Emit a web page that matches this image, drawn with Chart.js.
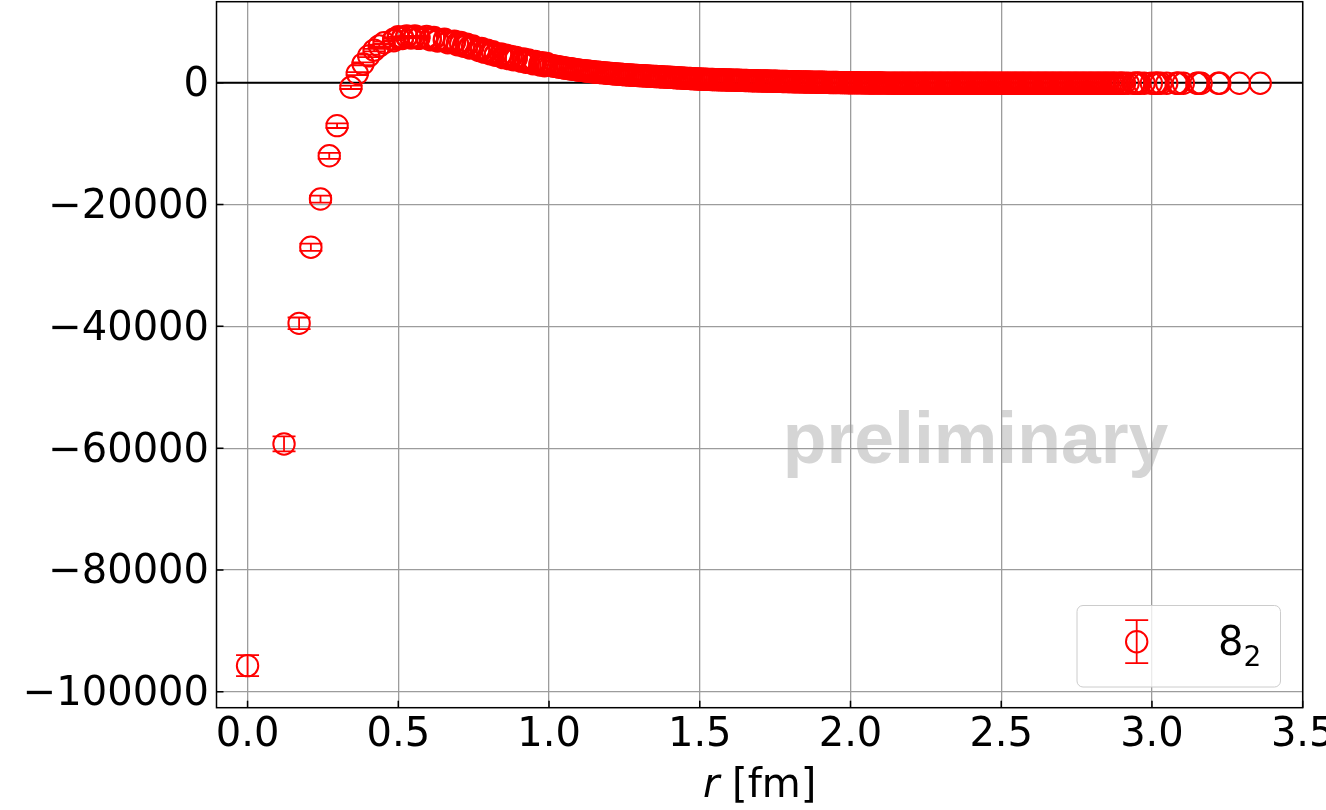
<!DOCTYPE html>
<html><head><meta charset="utf-8">
<script src="https://cdn.jsdelivr.net/npm/chart.js@4.4.1/dist/chart.umd.min.js"></script>
<style>html,body{margin:0;padding:0;background:#fff;}canvas{display:block;}</style>
</head><body>
<canvas id="c" width="1326" height="810"></canvas>
<script>
// ---------------- data ----------------
const seriesLabel = '8₂';
const watermark = 'preliminary';
const xTitleItalic = 'r';
const xTitleRest = ' [fm]';
const xTicks = [0, 0.5, 1, 1.5, 2, 2.5, 3, 3.5];
const yTicks = [-100000, -80000, -60000, -40000, -20000, 0];

// r [fm] of every point (sorted)
const r = [
0,0.121,0.171,0.210,0.242,0.271,0.297,0.343,
0.364,0.383,0.402,0.420,0.437,0.453,0.485,0.500,0.514,0.528,0.542,0.555,0.568,0.594,0.606,0.618,0.630,0.653,0.664,
0.686,0.696,0.707,0.717,0.727,0.737,0.747,0.767,0.776,0.785,0.795,0.804,0.813,0.822,0.840,0.848,0.857,0.866,0.874,
0.882,0.891,0.907,0.915,0.923,0.931,0.947,0.954,0.970,0.977,0.985,0.992,
1,1.006,1.013,1.019,1.025,1.031,1.038,1.044,
1.05,1.056,1.063,1.069,1.075,1.081,1.088,1.094,
1.1,1.106,1.113,1.119,1.125,1.131,1.138,1.144,
1.15,1.156,1.163,1.169,1.175,1.181,1.188,1.194,
1.2,1.206,1.213,1.219,1.225,1.231,1.238,1.244,
1.25,1.256,1.263,1.269,1.275,1.281,1.288,1.294,
1.3,1.306,1.313,1.319,1.325,1.331,1.338,1.344,
1.35,1.356,1.363,1.369,1.375,1.381,1.388,1.394,
1.4,1.406,1.413,1.419,1.425,1.431,1.438,1.444,
1.45,1.456,1.463,1.469,1.475,1.481,1.488,1.494,
1.5,1.506,1.513,1.519,1.525,1.531,1.538,1.544,
1.55,1.556,1.563,1.569,1.575,1.581,1.588,1.594,
1.6,1.606,1.613,1.619,1.625,1.631,1.638,1.644,
1.65,1.656,1.663,1.669,1.675,1.681,1.688,1.694,
1.7,1.706,1.713,1.719,1.725,1.731,1.738,1.744,
1.75,1.756,1.763,1.769,1.775,1.781,1.788,1.794,
1.8,1.806,1.813,1.819,1.825,1.831,1.838,1.844,
1.85,1.856,1.863,1.869,1.875,1.881,1.888,1.894,
1.9,1.906,1.913,1.919,1.925,1.931,1.938,1.944,
1.95,1.956,1.963,1.969,1.975,1.981,1.988,1.994,
2,2.006,2.013,2.019,2.025,2.031,2.038,2.044,
2.05,2.056,2.063,2.069,2.075,2.081,2.088,2.094,
2.1,2.106,2.113,2.119,2.125,2.131,2.138,2.144,
2.15,2.156,2.163,2.169,2.175,2.181,2.188,2.194,
2.2,2.206,2.213,2.219,2.225,2.231,2.238,2.244,
2.25,2.256,2.263,2.269,2.275,2.281,2.288,2.294,
2.3,2.306,2.313,2.319,2.325,2.331,2.338,2.344,
2.35,2.356,2.363,2.369,2.375,2.381,2.388,2.394,
2.4,2.406,2.413,2.419,2.425,2.431,2.438,2.444,
2.45,2.456,2.463,2.469,2.475,2.481,2.488,2.494,
2.5,2.506,2.513,2.519,2.525,2.531,2.538,2.544,
2.55,2.556,2.563,2.569,2.575,2.581,2.588,2.594,
2.6,2.606,2.613,2.619,2.625,2.631,2.638,2.644,
2.65,2.656,2.663,2.669,2.675,2.681,2.688,2.694,
2.7,2.706,2.713,2.719,2.725,2.731,2.738,2.744,
2.75,2.756,2.763,2.769,2.775,2.781,2.788,2.794,
2.8,2.806,2.813,2.819,2.825,2.831,2.838,2.844,
2.85,2.856,2.863,2.869,2.875,
2.881,2.891,2.896,2.901,2.909,2.921,2.939,2.944,2.951,2.954,2.959,2.974,2.998,3.011,3.015,3.020,3.030,
3.049,3.081,3.085,3.090,3.104,3.149,3.154,3.163,3.220,3.225,3.290,3.359
];

// V(r) of every point
const V = [
-95700,-59300,-39500,-27000,-19100,-12000,-7050,-750,
1500,3100,4400,5350,6050,6550,7150,7350,7450,7510,7530,7525,7490,7360,7290,7200,7110,6920,6810,
6590,6480,6350,6210,6080,5940,5810,5520,5390,5250,5120,4990,4860,4730,4480,4350,4270,4180,4100,
4010,3930,3770,3670,3590,3520,3350,3270,3140,3060,3000,2930,
2870,2815,2760,2710,2655,2600,2550,2495,
2440,2390,2345,2300,2250,2200,2155,2105,
2060,2025,1990,1950,1915,1880,1840,1805,
1770,1740,1710,1680,1650,1620,1590,1560,
1530,1505,1480,1455,1430,1405,1380,1355,
1330,1310,1290,1270,1250,1230,1210,1190,
1170,1150,1135,1115,1100,1080,1065,1045,
1030,1010,995,975,960,940,925,905,
890,870,855,835,815,795,775,760,
740,720,705,685,670,650,635,615,
600,590,575,565,555,545,530,520,
510,500,490,485,475,465,455,450,
440,430,420,415,405,395,385,380,
370,360,350,345,335,325,315,310,
300,290,285,275,270,260,255,245,
240,230,225,215,210,200,195,185,
180,175,165,160,150,145,140,130,
125,120,110,105,100,95,85,80,
75,70,65,55,50,45,40,35,
30,26,22,19,15,11,8,4,
0,-4,-8,-11,-15,-19,-22,-26,
-30,-33,-36,-39,-42,-46,-49,-52,
-55,-57,-59,-61,-62,-64,-66,-68,
-70,-72,-74,-76,-77,-79,-81,-83,
-85,-86,-88,-89,-90,-91,-92,-93,
-93,-94,-94,-94,-95,-95,-95,-95,
-95,-95,-96,-96,-96,-96,-96,-96,
-96,-96,-96,-97,-97,-97,-97,-97,
-97,-97,-97,-97,-97,-97,-97,-97,
-97,-97,-98,-98,-98,-98,-98,-98,
-98,-98,-98,-98,-98,-98,-98,-98,
-98,-98,-98,-98,-98,-98,-98,-98,
-98,-98,-97,-97,-97,-97,-97,-97,
-97,-97,-97,-97,-97,-96,-96,-96,
-96,-96,-96,-96,-96,-96,-96,-96,
-96,-95,-95,-95,-95,-95,-95,-95,
-95,-95,-95,-95,-95,-95,-95,-95,
-95,-95,-95,-95,-95,
-95,-95,-95,-94,-94,-94,-94,-94,-94,-94,-94,-93,-93,-93,-93,-93,-93,
-93,-92,-92,-92,-92,-92,-92,-92,-91,-91,-91,-90
];

// second set of points sharing the same r (other lattice directions), 0.48–1.0 fm
const rAlt = [
0.485,0.500,0.514,0.528,0.542,0.555,0.568,0.594,0.606,0.618,0.630,0.653,0.664,0.686,0.696,0.707,0.717,0.727,
0.737,0.747,0.767,0.776,0.785,0.795,0.804,0.813,0.822,0.840,0.848,0.857,0.866,0.874,0.882,0.891,0.907,0.915,
0.923,0.931,0.947,0.954,0.970,0.977,0.985,0.992
];
const VAlt = [
6900,7550,7250,7680,7330,7690,7280,7580,7050,7420,6860,7140,6560,6820,6240,6590,5970,6310,
5710,6040,5290,5620,5020,5350,4760,5090,4500,4710,4120,4500,3950,4330,3780,4160,3540,3900,
3360,3750,3120,3500,2910,3290,2770,3160
];

// statistical errors where the bars are readable (first points)
const dV = [1720,1230,960,600,570,490,380,280,250,230,210,200,190,180,170,160,160,150,150,150,150];

// ---------------- chart ----------------
const RED = '#ff0000';
const FONT = 'DejaVu Sans';
const AREA = {left: 216.5, right: 1302.7, top: 1.7, bottom: 707.7};
const MARK_R = 10.7, MARK_W = 2;

const points = r.map((v, i) => ({x: v, y: V[i]}))
  .concat(rAlt.map((v, i) => ({x: v, y: VAlt[i]})));

const decor = {
  id: 'decor',
  beforeDraw(chart) {
    const ctx = chart.ctx;
    ctx.save();
    ctx.fillStyle = '#ffffff';
    ctx.fillRect(0, 0, chart.width, chart.height);
    ctx.fillStyle = '#d5d5d5';
    ctx.font = 'bold 71.5px "Liberation Sans"';
    ctx.textAlign = 'center';
    ctx.textBaseline = 'alphabetic';
    ctx.fillText(watermark, 975.5, 463);
    ctx.restore();
  },
  beforeDatasetsDraw(chart) {
    const {ctx, chartArea: a, scales: {y}} = chart;
    ctx.save();
    ctx.strokeStyle = '#000';
    ctx.lineWidth = 2;
    const y0 = y.getPixelForValue(0);
    ctx.beginPath(); ctx.moveTo(a.left, y0); ctx.lineTo(a.right, y0); ctx.stroke();
    ctx.restore();
  },
  afterDatasetsDraw(chart) {
    const {ctx, chartArea: a, scales: {x, y}} = chart;
    ctx.save();
    ctx.beginPath(); ctx.rect(a.left, a.top, a.right - a.left, a.bottom - a.top); ctx.clip();
    ctx.strokeStyle = RED; ctx.lineWidth = 1.8;
    const cap = 11.5;
    for (let i = 0; i < dV.length; i++) {
      const px = x.getPixelForValue(r[i]);
      const y1 = y.getPixelForValue(V[i] + dV[i]);
      const y2 = y.getPixelForValue(V[i] - dV[i]);
      ctx.beginPath();
      ctx.moveTo(px, y1); ctx.lineTo(px, y2);
      ctx.moveTo(px - cap, y1); ctx.lineTo(px + cap, y1);
      ctx.moveTo(px - cap, y2); ctx.lineTo(px + cap, y2);
      ctx.stroke();
    }
    ctx.restore();
    ctx.save();
    ctx.strokeStyle = '#000'; ctx.lineWidth = 1.5;
    ctx.beginPath();
    xTicks.forEach(v => { const px = x.getPixelForValue(v); if (px >= a.left && px <= a.right) { ctx.moveTo(px, a.bottom); ctx.lineTo(px, a.bottom - 7); } });
    yTicks.forEach(v => { const py = y.getPixelForValue(v); ctx.moveTo(a.left, py); ctx.lineTo(a.left + 7, py); });
    ctx.stroke();
    ctx.strokeRect(a.left, a.top, a.right - a.left, a.bottom - a.top);
    ctx.restore();
  },
  afterDraw(chart) {
    const ctx = chart.ctx;
    const a = chart.chartArea;
    ctx.save();
    ctx.fillStyle = 'rgba(255,255,255,0.8)';
    ctx.strokeStyle = '#cccccc'; ctx.lineWidth = 1;
    ctx.beginPath(); ctx.roundRect(1077, 605.5, 203.5, 81.5, 6); ctx.fill(); ctx.stroke();
    const lx = 1136.7, ly = 641.7;
    ctx.strokeStyle = RED; ctx.lineWidth = 1.8;
    ctx.beginPath();
    ctx.moveTo(lx, ly - 21.5); ctx.lineTo(lx, ly + 21.5);
    ctx.moveTo(lx - 11.5, ly - 21.5); ctx.lineTo(lx + 11.5, ly - 21.5);
    ctx.moveTo(lx - 11.5, ly + 21.5); ctx.lineTo(lx + 11.5, ly + 21.5);
    ctx.stroke();
    ctx.lineWidth = MARK_W;
    ctx.beginPath(); ctx.arc(lx, ly, MARK_R, 0, Math.PI * 2); ctx.stroke();
    ctx.fillStyle = '#000';
    ctx.textBaseline = 'alphabetic'; ctx.textAlign = 'left';
    ctx.font = '40px "' + FONT + '"';
    const main = seriesLabel.charAt(0);
    ctx.fillText(main, 1218, 655);
    const w8 = ctx.measureText(main).width;
    ctx.font = '28px "' + FONT + '"';
    ctx.fillText('2', 1218 + w8, 666);
    ctx.font = 'oblique 40px "' + FONT + '"';
    const wr = ctx.measureText(xTitleItalic).width;
    ctx.font = '40px "' + FONT + '"';
    const wrest = ctx.measureText(xTitleRest).width;
    const cx = (a.left + a.right) / 2;
    const start = cx - (wr + wrest) / 2;
    ctx.font = 'oblique 40px "' + FONT + '"';
    ctx.fillText(xTitleItalic, start, 797);
    ctx.font = '40px "' + FONT + '"';
    ctx.fillText(xTitleRest, start + wr, 797);
    ctx.restore();
  }
};

new Chart(document.getElementById('c'), {
  type: 'scatter',
  data: {
    datasets: [{
      label: seriesLabel,
      data: points,
      showLine: false,
      pointStyle: 'circle',
      pointRadius: MARK_R,
      pointHoverRadius: MARK_R,
      borderWidth: MARK_W,
      borderColor: RED,
      backgroundColor: 'rgba(0,0,0,0)',
      pointBackgroundColor: 'rgba(0,0,0,0)',
      pointBorderColor: RED,
      clip: 0
    }]
  },
  options: {
    responsive: false,
    devicePixelRatio: 1,
    animation: false,
    events: [],
    layout: {autoPadding: false, padding: {left: 0, top: AREA.top, right: 1326 - AREA.right, bottom: 0}},
    plugins: {legend: {display: false}, tooltip: {enabled: false}, title: {display: false}},
    scales: {
      x: {
        type: 'linear', position: 'bottom',
        min: -0.103, max: 3.5,
        afterBuildTicks(s) { s.ticks = xTicks.map(v => ({value: v})); },
        afterFit(s) { s.height = 810 - AREA.bottom; s.paddingLeft = 0; s.paddingRight = 0; s.paddingTop = 0; s.paddingBottom = 0; },
        grid: {color: '#9c9c9c', lineWidth: 1.3, drawTicks: false},
        border: {display: false},
        ticks: {
          includeBounds: false, autoSkip: false, maxRotation: 0, padding: 4,
          color: '#000', font: {family: FONT, size: 40},
          callback: v => Number(v).toFixed(1)
        }
      },
      y: {
        type: 'linear', position: 'left',
        min: -102600, max: 13300,
        afterBuildTicks(s) { s.ticks = yTicks.map(v => ({value: v})); },
        afterFit(s) { s.width = AREA.left; s.paddingTop = 0; s.paddingBottom = 0; s.paddingLeft = 0; s.paddingRight = 0; },
        grid: {color: '#9c9c9c', lineWidth: 1.3, drawTicks: false},
        border: {display: false},
        ticks: {
          includeBounds: false, autoSkip: false, padding: 7.5, labelOffset: 3,
          color: '#000', font: {family: FONT, size: 40},
          callback: v => v < 0 ? '\u2212' + Math.abs(v) : String(v)
        }
      }
    }
  },
  plugins: [decor]
});
</script>
</body></html>
